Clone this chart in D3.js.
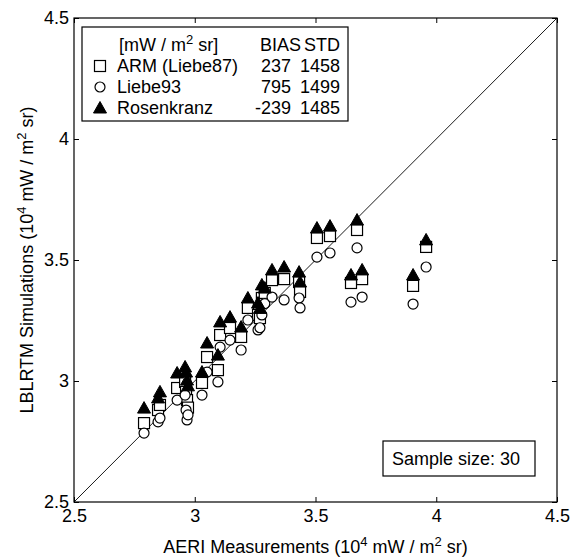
<!DOCTYPE html>
<html>
<head>
<meta charset="utf-8">
<script src="https://cdn.jsdelivr.net/npm/d3@7"></script>
<style>
  body { margin: 0; background: #fff; }
  svg { font-family: "Liberation Sans", Arial, sans-serif; }
</style>
</head>
<body>
<div id="chart"></div>
<script>
// AERI measured radiance (x) and the three LBLRTM runs (y), units of 10^4 mW / m2 sr
const aeri = [2.790, 2.848, 2.856, 2.927, 2.960, 2.964, 2.968, 2.972, 3.030, 3.051,
              3.096, 3.105, 3.146, 3.192, 3.220, 3.262, 3.270, 3.278, 3.290, 3.320,
              3.370, 3.432, 3.436, 3.506, 3.560, 3.647, 3.672, 3.693, 3.904, 3.958];
const armLiebe87 = [2.826, 2.880, 2.901, 2.971, 2.996, 2.955, 2.921, 2.890, 2.992, 3.099,
                    3.045, 3.190, 3.219, 3.182, 3.302, 3.273, 3.260, 3.343, 3.364, 3.417,
                    3.421, 3.409, 3.368, 3.591, 3.599, 3.405, 3.624, 3.421, 3.393, 3.554];
const liebe93 = [2.785, 2.831, 2.847, 2.921, 2.942, 2.880, 2.839, 2.860, 2.942, 3.037,
                 2.996, 3.140, 3.169, 3.128, 3.252, 3.211, 3.220, 3.273, 3.320, 3.347,
                 3.335, 3.343, 3.302, 3.512, 3.529, 3.326, 3.550, 3.347, 3.318, 3.471];
const rosenkranz = [2.888, 2.930, 2.955, 3.033, 3.058, 3.037, 3.004, 2.980, 3.037, 3.157,
                    3.107, 3.244, 3.264, 3.223, 3.343, 3.322, 3.300, 3.397, 3.384, 3.459,
                    3.471, 3.450, 3.409, 3.632, 3.640, 3.438, 3.665, 3.459, 3.438, 3.583];

const xTicks = [2.5, 3, 3.5, 4, 4.5];
const yTicks = [2.5, 3, 3.5, 4, 4.5];

// legend table
const seriesNames = ["ARM (Liebe87)", "Liebe93", "Rosenkranz"];
const seriesShapes = ["square", "circle", "triangle"];
const biasValues = ["237", "795", "-239"];
const stdValues = ["1458", "1499", "1485"];
const sampleSize = 30;

const W = 578, H = 560;
const margin = { top: 18, right: 21, bottom: 58, left: 74 };
const width = W - margin.left - margin.right;
const height = H - margin.top - margin.bottom;

const svg = d3.select("#chart").append("svg")
    .attr("width", W)
    .attr("height", H);

const plot = svg.append("g")
    .attr("transform", `translate(${margin.left},${margin.top})`);

const x = d3.scaleLinear().domain([2.5, 4.5]).range([0, width]);
const y = d3.scaleLinear().domain([2.5, 4.5]).range([height, 0]);

// marker drawing, MATLAB-ish sizes
function drawMarker(sel, shape) {
    if (shape === "square") {
        sel.append("rect")
            .attr("x", -5.5).attr("y", -5.5)
            .attr("width", 11).attr("height", 11)
            .attr("fill", "#fff").attr("stroke", "#000").attr("stroke-width", 1.2);
    } else if (shape === "circle") {
        sel.append("circle")
            .attr("r", 5)
            .attr("fill", "#fff").attr("stroke", "#000").attr("stroke-width", 1.2);
    } else {
        sel.append("path")
            .attr("d", "M0,-6.5L6.5,5L-6.5,5Z")
            .attr("fill", "#000").attr("stroke", "#000").attr("stroke-width", 1);
    }
}

// axes: ticks point inwards on all four sides
const tick = 5;
plot.append("g")
    .attr("transform", `translate(0,${height})`)
    .call(d3.axisBottom(x).tickValues(xTicks).tickSize(-tick).tickSizeOuter(0).tickPadding(7).tickFormat(d => d));
plot.append("g")
    .call(d3.axisTop(x).tickValues(xTicks).tickSize(-tick).tickSizeOuter(0).tickFormat(""));
plot.append("g")
    .call(d3.axisLeft(y).tickValues(yTicks).tickSize(-tick).tickSizeOuter(0).tickPadding(5).tickFormat(d => d));
plot.append("g")
    .attr("transform", `translate(${width},0)`)
    .call(d3.axisRight(y).tickValues(yTicks).tickSize(-tick).tickSizeOuter(0).tickFormat(""));

plot.selectAll(".domain").remove();
plot.selectAll(".tick line").attr("stroke", "#000");
plot.selectAll(".tick text").attr("font-size", 18).attr("fill", "#000")
    .attr("font-family", "Liberation Sans, Arial, sans-serif");

// 1:1 line
plot.append("line")
    .attr("x1", x(2.5)).attr("y1", y(2.5))
    .attr("x2", x(4.5)).attr("y2", y(4.5))
    .attr("stroke", "#000").attr("stroke-width", 0.9);

// points: squares, then circles, then triangles on top
const series = [armLiebe87, liebe93, rosenkranz];
series.forEach((vals, i) => {
    plot.append("g").selectAll("g")
        .data(vals)
        .join("g")
        .attr("transform", (d, j) => `translate(${x(aeri[j])},${y(d)})`)
        .each(function () { drawMarker(d3.select(this), seriesShapes[i]); });
});

// frame
plot.append("rect")
    .attr("width", width).attr("height", height)
    .attr("fill", "none").attr("stroke", "#000").attr("stroke-width", 1.2);

// superscript helper: raise the sup part, then drop the next part back to the baseline
function supText(t, parts) {
    let shift = 0;
    parts.forEach(p => {
        const span = t.append("tspan").text(p.s);
        if (p.sup) {
            span.attr("dy", -7).attr("font-size", 13);
            shift = 7;
        } else if (shift) {
            span.attr("dy", shift);
            shift = 0;
        }
    });
}

// axis titles
const xTitle = svg.append("text")
    .attr("x", margin.left + width / 2).attr("y", 553)
    .attr("text-anchor", "middle").attr("font-size", 18);
supText(xTitle, [{ s: "AERI Measurements (10" }, { s: "4", sup: true }, { s: " mW / m" }, { s: "2", sup: true }, { s: " sr)" }]);

const yTitle = svg.append("text")
    .attr("transform", `translate(33,${margin.top + height / 2}) rotate(-90)`)
    .attr("text-anchor", "middle").attr("font-size", 18);
supText(yTitle, [{ s: "LBLRTM Simulations (10" }, { s: "4", sup: true }, { s: " mW / m" }, { s: "2", sup: true }, { s: " sr)" }]);

// legend box
const legend = svg.append("g");
legend.append("rect")
    .attr("x", 82).attr("y", 27).attr("width", 266).attr("height", 94)
    .attr("fill", "#fff").attr("stroke", "#000").attr("stroke-width", 1.2);

const rowY = [45, 66, 87, 108];
const head = legend.append("text").attr("x", 119).attr("y", rowY[0] + 6).attr("font-size", 18);
supText(head, [{ s: "[mW / m" }, { s: "2", sup: true }, { s: " sr]" }]);
legend.append("text").attr("x", 260).attr("y", rowY[0] + 6).attr("font-size", 18).text("BIAS");
legend.append("text").attr("x", 340).attr("y", rowY[0] + 6).attr("font-size", 18)
    .attr("text-anchor", "end").text("STD");

seriesNames.forEach((name, i) => {
    const cy = rowY[i + 1];
    const m = legend.append("g").attr("transform", `translate(100,${cy})`);
    drawMarker(m, seriesShapes[i]);
    legend.append("text").attr("x", 117).attr("y", cy + 6).attr("font-size", 18).text(name);
    legend.append("text").attr("x", 291).attr("y", cy + 6).attr("font-size", 18)
        .attr("text-anchor", "end").text(biasValues[i]);
    legend.append("text").attr("x", 340).attr("y", cy + 6).attr("font-size", 18)
        .attr("text-anchor", "end").text(stdValues[i]);
});

// sample size box
svg.append("rect")
    .attr("x", 383).attr("y", 441).attr("width", 152).attr("height", 35)
    .attr("fill", "#fff").attr("stroke", "#000").attr("stroke-width", 1.2);
svg.append("text")
    .attr("x", 392).attr("y", 465).attr("font-size", 18)
    .text("Sample size: " + sampleSize);
</script>
</body>
</html>
